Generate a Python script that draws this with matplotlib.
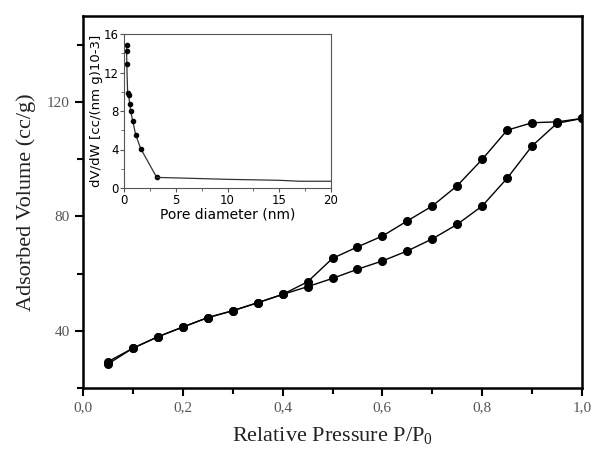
import numpy as np
from matplotlib import pyplot as plt
from matplotlib.ticker import MultipleLocator, FuncFormatter

plt.rcParams['mathtext.fontset'] = 'custom'
plt.rcParams['mathtext.rm'] = 'Liberation Serif'
plt.rcParams['mathtext.it'] = 'Liberation Serif:italic'

# isotherm data
p_ads = [0.05, 0.10, 0.15, 0.20, 0.25, 0.30, 0.35, 0.40, 0.45, 0.50, 0.55, 0.60,
         0.65, 0.70, 0.75, 0.80, 0.85, 0.90, 0.95, 1.00]
v_ads = [28.4, 33.9, 37.9, 41.3, 44.6, 47.0, 49.8, 52.7, 55.4, 58.3, 61.5, 64.4,
         67.9, 72.1, 77.2, 83.6, 93.3, 104.6, 112.5, 114.2]
p_des = [1.00, 0.95, 0.90, 0.85, 0.80, 0.75, 0.70, 0.65, 0.60, 0.55, 0.50, 0.45,
         0.40, 0.35, 0.30, 0.25, 0.20, 0.15, 0.10, 0.05]
v_des = [114.2, 113.0, 112.7, 110.1, 99.9, 90.7, 83.6, 78.4, 73.1, 69.3, 65.3, 57.1,
         52.7, 49.8, 47.0, 44.6, 41.3, 37.9, 33.9, 29.2]

# pore size distribution (inset)
d_pore = [0.25, 0.25, 0.27, 0.35, 0.45, 0.55, 0.64, 0.84, 1.13, 1.61, 3.16]
dvdw = [14.9, 14.2, 12.9, 9.85, 9.65, 8.75, 8.0, 6.98, 5.53, 4.1, 1.1]
d_tail = [3.16, 5.0, 10.0, 15.0, 17.0, 20.0]
dvdw_tail = [1.1, 1.05, 0.9, 0.8, 0.7, 0.7]

fig = plt.figure(figsize=(5.96, 4.55), dpi=100)
ax = fig.add_axes([83/596, (455-388)/455, (582-83)/596, (388-16)/455])

ax.plot(p_ads, v_ads, '-o', color='k', lw=1, ms=5.5)
ax.plot(p_des, v_des, '-o', color='k', lw=1, ms=5.5)

ax.set_xlim(0, 1.0)
ax.set_ylim(20, 150)
ax.xaxis.set_major_locator(MultipleLocator(0.2))
ax.xaxis.set_minor_locator(MultipleLocator(0.1))
ax.yaxis.set_minor_locator(MultipleLocator(20))
ax.set_yticks([40, 80, 120])
ax.xaxis.set_major_formatter(FuncFormatter(lambda v, pos: f'{v:.1f}'.replace('.', ',')))
for s in ax.spines.values():
    s.set_linewidth(1.8)
ax.tick_params(which='major', direction='out', length=6, width=1.5,
               labelsize=11, labelcolor='#555555', top=False, right=False)
ax.tick_params(which='minor', direction='out', length=4, width=1.5,
               top=False, right=False)
for lab in ax.get_xticklabels() + ax.get_yticklabels():
    lab.set_fontfamily('Liberation Serif')
ax.set_xlabel('Relative Pressure P/P$_0$', fontsize=16, family='Liberation Serif',
              color='#222222', labelpad=8)
ax.set_ylabel('Adsorbed Volume (cc/g)', fontsize=16, family='Liberation Serif',
              color='#222222', labelpad=8)

# inset
ins = fig.add_axes([124/596, (455-188)/455, 207/596, 154/455])
ins.plot(d_pore, dvdw, '-o', color='#333333', lw=0.9, ms=3, mfc='k', mec='k')
ins.plot(d_tail, dvdw_tail, '-', color='#333333', lw=0.9)
ins.set_xlim(0, 20)
ins.set_ylim(0, 16)
ins.set_xticks([0, 5, 10, 15, 20])
ins.set_yticks([0, 4, 8, 12, 16])
ins.xaxis.set_minor_locator(MultipleLocator(2.5))
ins.yaxis.set_minor_locator(MultipleLocator(2))
for s in ins.spines.values():
    s.set_linewidth(0.8)
    s.set_color('#555555')
ins.tick_params(which='both', direction='out', labelsize=8.5, color='#555555',
                length=3, top=False, right=False, pad=1)
ins.tick_params(which='minor', length=2)
ins.set_xlabel('Pore diameter (nm)', fontsize=10, labelpad=1)
ins.set_ylabel('dV/dW [cc/(nm g)10-3]', fontsize=9.5, labelpad=0)

fig.savefig('out.png', dpi=100)
